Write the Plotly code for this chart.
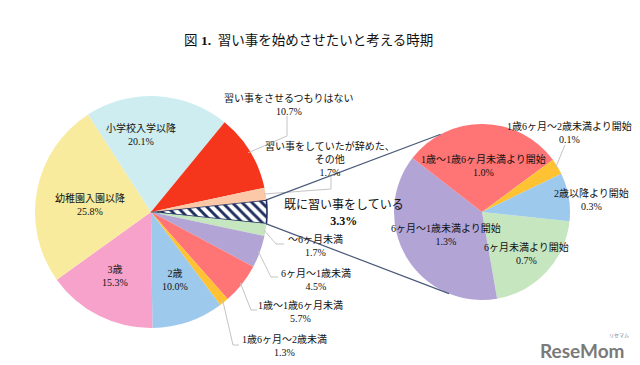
import math
import plotly.graph_objects as go

# ---------------- data ----------------
main_labels = ["既に習い事をしている", "～6ヶ月未満", "6ヶ月～1歳未満", "1歳～1歳6ヶ月未満",
               "1歳6ヶ月～2歳未満", "2歳", "3歳", "幼稚園入園以降", "小学校入学以降",
               "習い事をさせるつもりはない", "習い事をしていたが辞めた、その他"]
main_values = [3.3, 1.7, 4.5, 5.7, 1.3, 10.0, 15.3, 25.8, 20.1, 10.7, 1.7]

sub_labels = ["6ヶ月未満より開始", "6ヶ月～1歳未満より開始", "1歳～1歳6ヶ月未満より開始",
              "1歳6ヶ月～2歳未満より開始", "2歳以降より開始"]
sub_values = [0.7, 1.3, 1.0, 0.1, 0.3]

title_text = "図 <b>1.</b>  習い事を始めさせたいと考える時期"

# ---------------- style ----------------
W, H = 640, 365
main_colors = ["#FFFFFF", "#C6E6C0", "#B3A4D6", "#FF7474", "#FFC233", "#9DC9EC",
               "#F6A2CB", "#F9EB9E", "#CDEDF1", "#F5361D", "#FBC8A8"]
sub_colors = ["#C6E6C0", "#B3A4D6", "#FF7474", "#FFC233", "#9DC9EC"]
NAVY = "#1F2F5F"
CONN = "#4A5A78"
LEAD = "#C4C4C4"
FONT = "Liberation Serif, Noto Sans CJK JP"
LBL = 10

main_c, main_r, main_rot = (143, 204), 116, 84
sub_c, sub_r, sub_rot = (474, 204), 88, 96

# label centre positions (pixels) for each slice
main_label_pos = [(336, 205), (307, 238), (308, 271.5), (292, 304), (276, 338),
                  (167, 272), (107, 267.5), (82, 196), (133, 126.5), (281, 96.5), (322, 150.5)]
main_label_size = [12] + [LBL] * 10
# leader-line elbows
main_leaders = {1: [(268, 236), (276, 236)], 2: [(263, 269), (270, 269)],
                3: [(243, 302), (249, 302)], 4: [(225, 337), (231, 337)],
                9: [(279, 128), (279, 108)], 10: [(323, 181), (323, 167)]}
sub_label_pos = [(518, 245), (437.5, 226.5), (475, 157), (561, 124.5), (583, 191.5)]
sub_leaders = {3: [(557, 137)]}


def px(x, y):
    return x / W, 1 - y / H


def domain(c, r):
    return dict(x=[(c[0] - r) / W, (c[0] + r) / W], y=[1 - (c[1] + r) / H, 1 - (c[1] - r) / H])


def angles(values, rot):
    tot = sum(values)
    out, a = [], rot
    for v in values:
        d = 360 * v / tot
        out.append((a, a + d))
        a += d
    return out


def pt(c, r, ang):
    t = math.radians(ang)
    return c[0] + r * math.sin(t), c[1] - r * math.cos(t)


fig = go.Figure()

pattern_shapes = ["\\"] + [""] * (len(main_values) - 1)
line_w = [1.6] + [0] * (len(main_values) - 1)
line_c = [NAVY] + ["rgba(0,0,0,0)"] * (len(main_values) - 1)

fig.add_trace(go.Pie(
    labels=main_labels, values=main_values, sort=False, direction="clockwise",
    rotation=main_rot, domain=domain(main_c, main_r), textinfo="none",
    hoverinfo="skip", showlegend=False,
    marker=dict(colors=main_colors, line=dict(color=line_c, width=line_w),
                pattern=dict(shape=pattern_shapes, fgcolor=NAVY, bgcolor="#FFFFFF",
                             size=7, solidity=0.42, fillmode="replace")),
))
fig.add_trace(go.Pie(
    labels=sub_labels, values=sub_values, sort=False, direction="clockwise",
    rotation=sub_rot, domain=domain(sub_c, sub_r), textinfo="none",
    hoverinfo="skip", showlegend=False,
    marker=dict(colors=sub_colors, line=dict(width=0)),
))

annotations = []
shapes = []


def add_label(text, pos, size=LBL):
    x, y = px(*pos)
    annotations.append(dict(x=x, y=y, xref="paper", yref="paper", text=text,
                            showarrow=False, xanchor="center", yanchor="middle",
                            font=dict(family=FONT, size=size, color="#111111"), align="center"))


def add_path(points, color, width):
    d = ""
    for i, (x, y) in enumerate(points):
        xp, yp = px(x, y)
        d += ("M" if i == 0 else " L") + f" {xp:.5f},{yp:.5f}"
    shapes.append(dict(type="path", path=d, xref="paper", yref="paper",
                       line=dict(color=color, width=width), layer="above"))


m_ang = angles(main_values, main_rot)
for i, (lab, v) in enumerate(zip(main_labels, main_values)):
    lab_txt = lab.replace("、", "、<br>")
    if i == 0:
        txt = f"{lab_txt}<br><b>{v:.1f}%</b>"
    else:
        txt = f"{lab_txt}<br>{v:.1f}%"
    add_label(txt, main_label_pos[i], main_label_size[i])
    if i in main_leaders:
        mid = (m_ang[i][0] + m_ang[i][1]) / 2
        add_path([pt(main_c, main_r - 2, mid)] + main_leaders[i], LEAD, 1)

s_ang = angles(sub_values, sub_rot)
for i, (lab, v) in enumerate(zip(sub_labels, sub_values)):
    add_label(f"{lab}<br>{v:.1f}%", sub_label_pos[i], LBL)
    if i in sub_leaders:
        mid = (s_ang[i][0] + s_ang[i][1]) / 2
        add_path([pt(sub_c, sub_r - 2, mid)] + sub_leaders[i], LEAD, 1)

# connectors from the hatched slice to the breakdown pie
a0, a1 = m_ang[0]
add_path([pt(main_c, main_r, a0), pt(sub_c, sub_r, 332)], CONN, 1.2)
add_path([pt(main_c, main_r, a1), pt(sub_c, sub_r, 202)], CONN, 1.2)

# title
tx, ty = px(300, 33)
annotations.append(dict(x=tx, y=ty, xref="paper", yref="paper", text=title_text,
                        showarrow=False, xanchor="center", yanchor="middle",
                        font=dict(family=FONT, size=13.5, color="#111111")))
# watermark
wx, wy = px(574, 342)
annotations.append(dict(x=wx, y=wy, xref="paper", yref="paper", text="<b>ReseMom</b>",
                        showarrow=False, xanchor="center", yanchor="middle",
                        font=dict(family="Lato, Roboto, sans-serif", size=19, color="#7A7A7A")))
wx2, wy2 = px(611, 327)
annotations.append(dict(x=wx2, y=wy2, xref="paper", yref="paper", text="リセマム",
                        showarrow=False, xanchor="center", yanchor="middle",
                        font=dict(family="Noto Sans CJK JP", size=5, color="#7A7A7A")))

fig.update_layout(
    width=W, height=H, margin=dict(l=0, r=0, t=0, b=0),
    paper_bgcolor="white", plot_bgcolor="white",
    annotations=annotations, shapes=shapes,
)

fig.write_html("out.html")
